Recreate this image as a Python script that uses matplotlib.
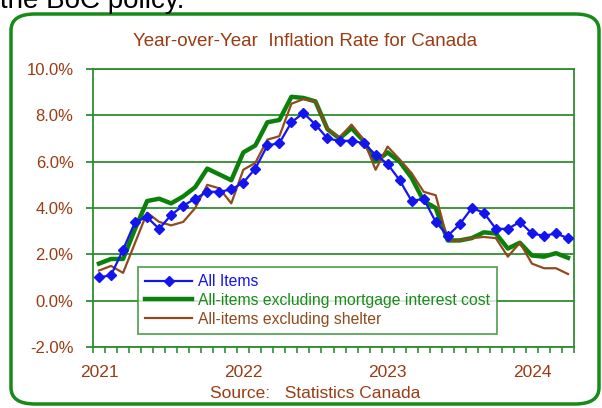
import numpy as np
import matplotlib
matplotlib.use("Agg")
import matplotlib.pyplot as plt
from matplotlib.patches import FancyBboxPatch

# monthly data, Jan 2021 .. Apr 2024
months = ["2021-%02d" % m for m in range(1, 13)] + ["2022-%02d" % m for m in range(1, 13)] \
    + ["2023-%02d" % m for m in range(1, 13)] + ["2024-%02d" % m for m in range(1, 5)]

all_items = [1.0, 1.1, 2.2, 3.4, 3.6, 3.1, 3.7, 4.1, 4.4, 4.7, 4.7, 4.8,
             5.1, 5.7, 6.7, 6.8, 7.7, 8.1, 7.6, 7.0, 6.9, 6.9, 6.8, 6.3,
             5.9, 5.2, 4.3, 4.4, 3.4, 2.8, 3.3, 4.0, 3.8, 3.1, 3.1, 3.4,
             2.9, 2.8, 2.9, 2.7]
ex_mortgage = [1.6, 1.8, 1.8, 3.1, 4.3, 4.4, 4.2, 4.5, 4.9, 5.7, 5.45, 5.2,
               6.4, 6.7, 7.7, 7.8, 8.8, 8.75, 8.6, 7.4, 7.0, 7.45, 6.9, 6.0,
               6.4, 6.0, 5.3, 4.3, 4.0, 2.6, 2.6, 2.7, 2.95, 2.9, 2.25, 2.5,
               1.95, 1.9, 2.05, 1.85]
ex_shelter = [1.3, 1.5, 1.2, 2.5, 3.8, 3.4, 3.25, 3.4, 4.0, 5.0, 4.85, 4.2,
              5.65, 5.95, 6.95, 7.1, 8.5, 8.7, 8.6, 7.4, 7.05, 7.6, 6.95, 5.65,
              6.65, 6.1, 5.5, 4.7, 4.55, 2.6, 2.6, 2.7, 2.75, 2.7, 1.9, 2.5,
              1.6, 1.4, 1.4, 1.15]

year_labels = ["2021", "2022", "2023", "2024"]
y_ticks = [-2, 0, 2, 4, 6, 8, 10]

BROWN = "#993c14"
GREEN_LINE = "#0b800b"
GRID = "#2f8f2f"
BLUE = "#1414ee"
SHELTER = "#8f4a1e"
FONT = ["Liberation Sans", "DejaVu Sans"]

fig = plt.figure(figsize=(6.02, 4.08), dpi=100)
fig.patch.set_facecolor("white")

# rounded green frame around the chart
frame = FancyBboxPatch((11 / 602, 4 / 408), 588 / 602, 390 / 408,
                       boxstyle="round,pad=0,rounding_size=0.04",
                       transform=fig.transFigure, facecolor="white",
                       edgecolor="#178a17", linewidth=2.5, zorder=-5)
fig.patches.append(frame)

# clipped line of text above the chart (cut off in the original too)
fig.text(0.0, 1 - 8 / 408, "the BoC policy.", fontsize=20, color="black",
         family=FONT, va="baseline", ha="left")

ax = fig.add_axes([93 / 602, 1 - 347 / 408, 481 / 602, 278 / 408])
x = np.arange(len(months))

ax.plot(x, all_items, color=BLUE, lw=1.6, marker="D", ms=5, label="All Items", zorder=5)
ax.plot(x, ex_mortgage, color=GREEN_LINE, lw=3.2, label="All-items excluding mortgage interest cost", zorder=3)
ax.plot(x, ex_shelter, color=SHELTER, lw=1.6, label="All-items excluding shelter", zorder=4)

ax.set_xlim(-0.5, len(months) - 0.5)
ax.set_ylim(-2, 10)

ax.set_yticks(y_ticks)
ax.set_yticklabels(["%.1f%%" % v for v in y_ticks])
ax.set_xticks([0, 12, 24, 36])
ax.set_xticklabels(year_labels)
ax.set_xticks(np.arange(-0.5, len(months), 1), minor=True)

ax.tick_params(axis="y", direction="out", length=5, width=1.3, color=GRID,
               labelcolor=BROWN, labelsize=12, pad=9)
ax.tick_params(axis="x", which="major", length=0, labelcolor=BROWN, labelsize=12.5, pad=13)
ax.tick_params(axis="x", which="minor", direction="out", length=4, width=1.2, color=GRID)
for lab in ax.get_xticklabels() + ax.get_yticklabels():
    lab.set_family(FONT)

ax.grid(axis="y", color=GRID, lw=1.3)
ax.set_axisbelow(True)
for s in ax.spines.values():
    s.set_color(GRID)
    s.set_linewidth(1.3)

leg = ax.legend(loc="upper left", bbox_to_anchor=(0.0936, 0.288), borderaxespad=0,
                fancybox=False, frameon=True, edgecolor=GRID,
                handlelength=3.0, handletextpad=0.35, labelspacing=0.24,
                borderpad=0.45, prop={"family": FONT, "size": 11.3})
leg.get_frame().set_linewidth(1.3)
for txt, col in zip(leg.get_texts(), [BLUE, "#1b8a1b", SHELTER]):
    txt.set_color(col)

fig.text(305 / 602, 1 - 41 / 408, "Year-over-Year  Inflation Rate for Canada", color=BROWN,
         fontsize=13.5, family=FONT, ha="center", va="center")
fig.text(315 / 602, 1 - 394 / 408, "Source:   Statistics Canada", color=BROWN,
         fontsize=12.5, family=FONT, ha="center", va="center")

fig.savefig("out.png", dpi=100)
